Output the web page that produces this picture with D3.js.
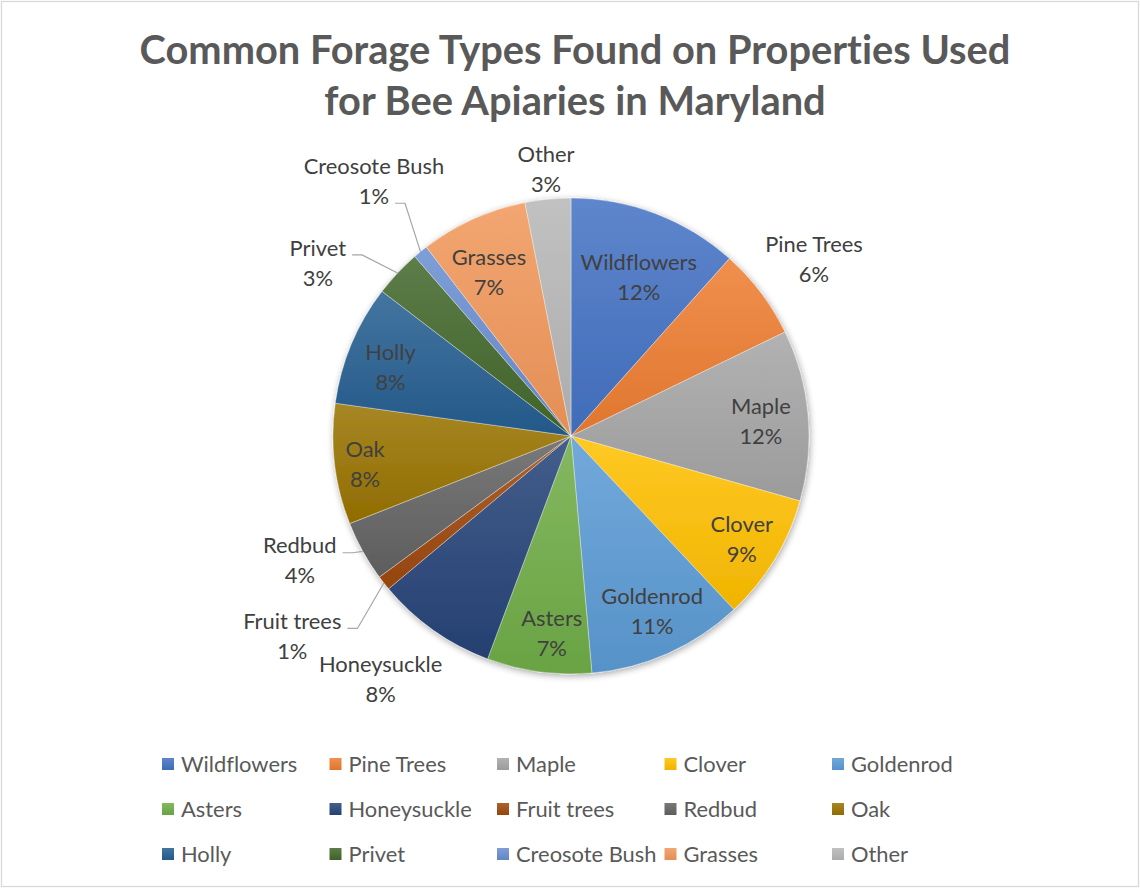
<!DOCTYPE html>
<html><head><meta charset="utf-8">
<script src="https://cdn.jsdelivr.net/npm/d3@7"></script>
<style>
body{margin:0;background:#fff;}
svg{display:block;}
text{font-family:Lato,"Open Sans",sans-serif;font-variant-ligatures:none;font-feature-settings:"liga" 0;}
</style>
</head><body>
<svg id="chart" width="1140" height="888"></svg>
<script>
const categories = ["Wildflowers","Pine Trees","Maple","Clover","Goldenrod","Asters","Honeysuckle","Fruit trees","Redbud","Oak","Holly","Privet","Creosote Bush","Grasses","Other"];
const shares = [11.6,6.2,11.6,8.6,10.6,7.1,8.2,1.0,4.1,8.2,8.2,3.2,1.0,7.3,3.1];
const colors = ["#4472C4","#ED7D31","#A5A5A5","#FFC000","#5B9BD5","#70AD47","#264478","#9E480E","#636363","#997300","#255E91","#43682B","#698ED0","#F1975A","#B7B7B7"];
const titleLines = ["Common Forage Types Found on Properties Used","for Bee Apiaries in Maryland"];
// label placement (layout only): radius factor, angle nudge (deg), leader row (-1 none)
const labelRadius = [0.72,1.26,0.80,0.84,0.815,0.836,1.30,1.445,1.256,0.874,0.81,1.286,1.35,0.765,1.12];
const labelNudge  = [2.4,1.2,0.8,0,-0.6,-2.2,2.7,2.3,4.1,-1.2,-2.1,-9,1.4,-2.5,0.2];
const leaderRow   = [-1,-1,-1,-1,-1,-1,-1,0,0,-1,-1,0,1,-1,-1];

const W = 1140, H = 888;
const cx = 571, cy = 436, R = 238;
const svg = d3.select("#chart");
const data = categories.map((c,i)=>({name:c, value:shares[i], color:colors[i], i}));
const total = d3.sum(shares);
const pct = d3.format(".0%");

// border
svg.append("rect").attr("x",1.5).attr("y",1.5).attr("width",W-3).attr("height",H-3)
  .attr("fill","#fff").attr("stroke","#D9D9D9").attr("stroke-width",1.3);

const defs = svg.append("defs");
const f = defs.append("filter").attr("id","shadow").attr("x","-10%").attr("y","-10%").attr("width","120%").attr("height","120%");
f.append("feGaussianBlur").attr("in","SourceAlpha").attr("stdDeviation",3.5).attr("result","b");
f.append("feOffset").attr("in","b").attr("dx",1).attr("dy",2).attr("result","o");
f.append("feComponentTransfer").attr("in","o").attr("result","s").append("feFuncA").attr("type","linear").attr("slope",0.35);
const m = f.append("feMerge"); m.append("feMergeNode").attr("in","s"); m.append("feMergeNode").attr("in","SourceGraphic");

data.forEach(d=>{
  const g = defs.append("linearGradient").attr("id","g"+d.i).attr("x1",0).attr("y1",0).attr("x2",0).attr("y2",1);
  g.append("stop").attr("offset","0%").attr("stop-color", d3.interpolateRgb(d.color,"#ffffff")(0.14));
  g.append("stop").attr("offset","100%").attr("stop-color", d3.interpolateRgb(d.color,"#000000")(0.06));
});

// title
svg.append("g").selectAll("text").data(titleLines).join("text")
  .attr("x",575).attr("y",(d,i)=>64+i*51)
  .attr("text-anchor","middle").attr("font-weight",700).attr("font-size",39.8)
  .attr("fill","#595959").text(d=>d);

const pie = d3.pie().sort(null).value(d=>d.value);
const arcs = pie(data);
const arc = d3.arc().innerRadius(0).outerRadius(R);

const pg = svg.append("g").attr("transform",`translate(${cx},${cy})`).attr("filter","url(#shadow)");
pg.selectAll("path").data(arcs).join("path")
  .attr("d",arc).attr("fill",d=>`url(#g${d.data.i})`)
  .attr("stroke","#ffffff").attr("stroke-width",0.6).attr("stroke-opacity",0.6);

const polar = (a,r)=>[cx + r*Math.sin(a), cy - r*Math.cos(a)];
const fs = 21.9, lh = 30;
const lg = svg.append("g");
arcs.forEach(a=>{
  const i = a.data.i;
  const mid = (a.startAngle+a.endAngle)/2;
  const [lx,ly] = polar(mid + labelNudge[i]*Math.PI/180, labelRadius[i]*R);
  const lines = [a.data.name, pct(a.data.value/total)];
  const t = lg.append("g");
  const texts = lines.map((s,k)=> t.append("text").attr("x",lx).attr("y",ly - 1 + (k-0.5)*lh).attr("dy","0.35em")
    .attr("text-anchor","middle").attr("font-size",fs).attr("fill","#404040").text(s));
  if (leaderRow[i] >= 0) {
    const row = leaderRow[i];
    const w = texts[row].node().getComputedTextLength();
    const sx = lx + w/2 + 6, sy = ly + (row-0.5)*lh + 6;
    const [ex,ey] = polar(mid, R);
    lg.append("path").attr("d",d3.line()([[sx,sy],[sx+10,sy],[ex,ey]]))
      .attr("fill","none").attr("stroke","#A6A6A6").attr("stroke-width",1.2);
  }
});

// legend
const colX = d3.scaleLinear().domain([0,4]).range([162,832]);
const rowY = d3.scaleLinear().domain([0,2]).range([764,854]);
const leg = svg.append("g").selectAll("g").data(data).join("g")
  .attr("transform",(d,i)=>`translate(${colX(i%5)},${rowY(Math.floor(i/5))})`);
leg.append("rect").attr("x",0).attr("y",-6).attr("width",12).attr("height",12).attr("fill",d=>`url(#g${d.i})`);
leg.append("text").attr("x",19).attr("dy","0.35em").attr("font-size",fs).attr("fill","#595959").text(d=>d.name);
</script>
</body></html>
